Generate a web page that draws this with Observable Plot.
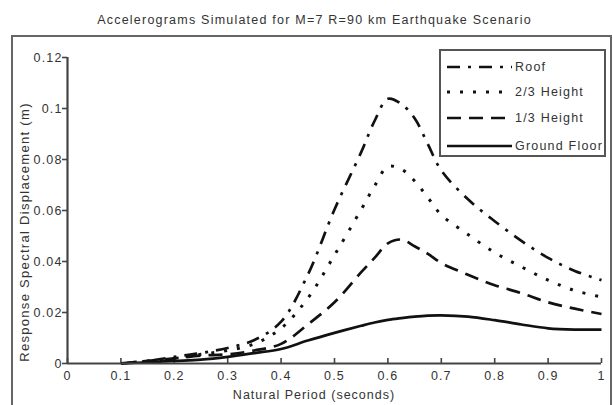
<!DOCTYPE html>
<html>
<head>
<meta charset="utf-8">
<script src="https://cdn.jsdelivr.net/npm/d3@7"></script>
<script src="https://cdn.jsdelivr.net/npm/@observablehq/plot@0.6"></script>
<style>
  html, body { margin: 0; padding: 0; background: #fff; }
  #fig { position: relative; width: 613px; height: 405px; overflow: hidden; font-family: "Liberation Sans", Arial, sans-serif; color: #333; }
  #frame { position: absolute; left: 11px; top: 35px; width: 597px; height: 372px; border: 2px solid #666; }
  #title { position: absolute; left: 0; top: 13px; width: 629px; text-align: center; font-size: 12.5px; line-height: 14px; letter-spacing: 1.22px; color: #333; }
  #plot { position: absolute; left: 0; top: 0; }
  #plot text { letter-spacing: 1.15px; }
  #legend { position: absolute; left: 439px; top: 49px; width: 163px; height: 104px; border: 2px solid #555; background: #fff; }
  .row { position: absolute; left: 6px; height: 14px; display: flex; align-items: center; font-size: 12.5px; letter-spacing: 1.2px; color: #333; white-space: nowrap; }
  .row svg { margin-right: 3px; flex: none; }
</style>
</head>
<body>
<div id="fig">
  <div id="frame"></div>
  <div id="title"></div>
  <div id="plot"></div>
  <div id="legend"></div>
</div>
<script>
const titleText = "Accelerograms Simulated for M=7 R=90 km Earthquake Scenario";
const xLabel = "Natural Period (seconds)";
const yLabel = "Response Spectral Displacement (m)";

const seriesNames = ["Roof", "2/3 Height", "1/3 Height", "Ground Floor"];

const periods = [0.1, 0.15, 0.2, 0.25, 0.3, 0.35, 0.4, 0.45, 0.5, 0.55, 0.575, 0.6, 0.625, 0.65, 0.675, 0.7, 0.75, 0.8, 0.85, 0.9, 0.95, 1.0];

const roof =        [0, 0.001, 0.0026, 0.0041, 0.0061, 0.0092, 0.0164, 0.0348, 0.0604, 0.0829, 0.0951, 0.1038, 0.1018, 0.0962, 0.0859, 0.0757, 0.0644, 0.0558, 0.0481, 0.0414, 0.0363, 0.0327];
const twoThirds =   [0, 0.001, 0.002, 0.0036, 0.0051, 0.0077, 0.0138, 0.0256, 0.0425, 0.0604, 0.0696, 0.0772, 0.0762, 0.0716, 0.065, 0.0583, 0.0506, 0.0435, 0.0379, 0.0327, 0.0286, 0.0261];
const oneThird =    [0, 0.001, 0.002, 0.0031, 0.0036, 0.0051, 0.0077, 0.0153, 0.024, 0.0358, 0.0414, 0.0471, 0.0486, 0.046, 0.043, 0.0394, 0.0348, 0.0307, 0.0276, 0.024, 0.0215, 0.0194];
const groundFloor = [0, 0.0005, 0.001, 0.0015, 0.0026, 0.0041, 0.0057, 0.009, 0.012, 0.0148, 0.0161, 0.0171, 0.0178, 0.0184, 0.0188, 0.0189, 0.0184, 0.017, 0.0153, 0.0138, 0.0133, 0.0133];

const xTicks = [0, 0.1, 0.2, 0.3, 0.4, 0.5, 0.6, 0.7, 0.8, 0.9, 1];
const xTickLabels = ["0", "0.1", "0.2", "0.3", "0.4", "0.5", "0.6", "0.7", "0.8", "0.9", "1"];
const yTicks = [0, 0.02, 0.04, 0.06, 0.08, 0.1, 0.12];
const yTickLabels = ["0", "0.02", "0.04", "0.06", "0.08", "0.1", "0.12"];

const dashStyles = ["13,8,3,8", "3,10", "14,8", null];

const allSeries = [roof, twoThirds, oneThird, groundFloor];
const rows = [];
allSeries.forEach((vals, i) => {
  periods.forEach((p, j) => rows.push({series: seriesNames[i], period: p, value: vals[j]}));
});

document.getElementById("title").textContent = titleText;

const xFmt = d => xTickLabels[xTicks.indexOf(d)];
const yFmt = d => yTickLabels[yTicks.indexOf(d)];

const chart = Plot.plot({
  width: 613,
  height: 405,
  marginLeft: 67,
  marginRight: 12,
  marginTop: 57,
  marginBottom: 42,
  style: {fontFamily: "'Liberation Sans', Arial, sans-serif", fontSize: "12.5px", color: "#333", background: "transparent", overflow: "visible"},
  x: {domain: [0, 1]},
  y: {domain: [0, 0.12]},
  marks: [
    Plot.axisY({ticks: yTicks, tickFormat: yFmt, tickSize: 5, tickPadding: 0, label: null, stroke: "#444", strokeWidth: 1.6, fill: "#333", fontSize: 12.5}),
    Plot.axisX({ticks: xTicks, tickFormat: xFmt, tickSize: -5, tickPadding: 13, label: null, stroke: "#444", strokeWidth: 1.6, fill: "#333", fontSize: 12.5}),
    ...seriesNames.map((name, i) => Plot.line(rows.filter(r => r.series === name), {
      x: "period", y: "value", curve: "catmull-rom",
      stroke: "#111", strokeWidth: i === 1 ? 3 : 2.7,
      strokeDasharray: dashStyles[i] || undefined,
      strokeLinecap: "butt"
    })),
    Plot.ruleX([0], {stroke: "#444", strokeWidth: 2.2}),
    Plot.ruleY([0], {stroke: "#444", strokeWidth: 2.2})
  ]
});
document.getElementById("plot").appendChild(chart);

// axis titles as text in the SVG
const svg = d3.select(chart);
svg.append("text")
  .attr("x", 314).attr("y", 399)
  .attr("text-anchor", "middle")
  .attr("fill", "#333").attr("font-size", 12.5)
  .style("letter-spacing", "1px")
  .text(xLabel);
svg.append("text")
  .attr("transform", "translate(28.5,232) rotate(-90)")
  .attr("text-anchor", "middle")
  .attr("fill", "#333").attr("font-size", 13)
  .style("letter-spacing", "1.3px")
  .text(yLabel);

// legend
const legend = document.getElementById("legend");
const rowTops = [9, 34, 60, 88];
seriesNames.forEach((name, i) => {
  const row = document.createElement("div");
  row.className = "row";
  row.style.top = rowTops[i] + "px";
  const s = d3.create("svg").attr("width", 65).attr("height", 10);
  s.append("line").attr("x1", 0).attr("x2", 65).attr("y1", 5).attr("y2", 5)
    .attr("stroke", "#111").attr("stroke-width", i === 1 ? 3 : 2.7)
    .attr("stroke-dasharray", dashStyles[i]);
  row.appendChild(s.node());
  const t = document.createElement("span");
  t.textContent = name;
  row.appendChild(t);
  legend.appendChild(row);
});
</script>
</body>
</html>
